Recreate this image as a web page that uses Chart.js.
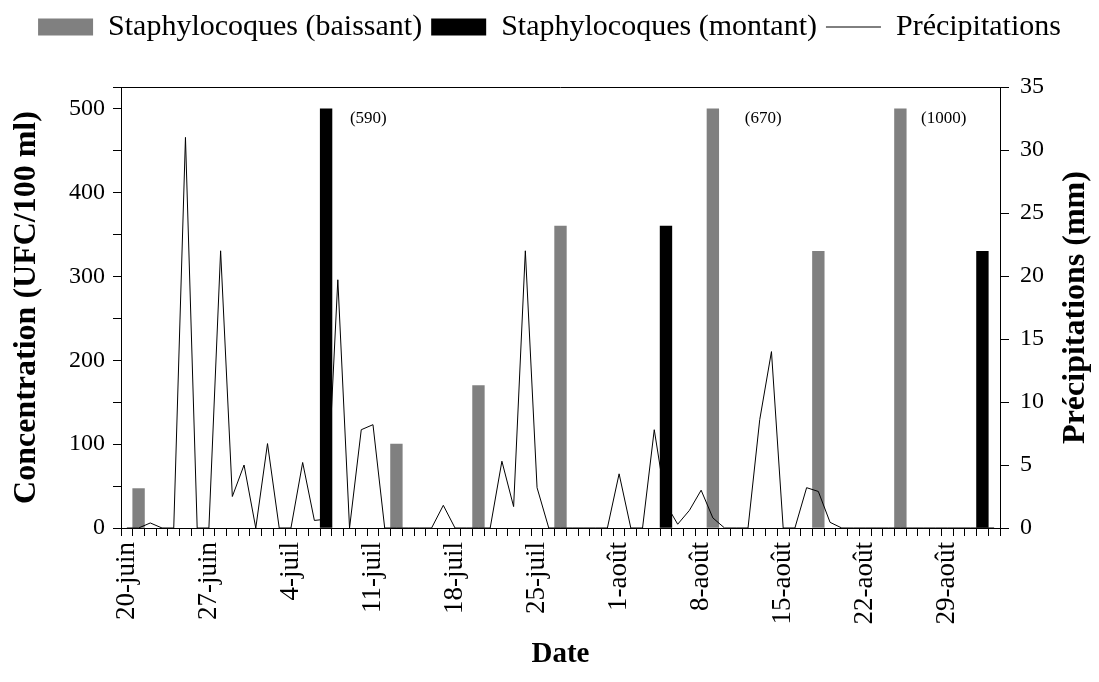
<!DOCTYPE html>
<html lang="fr">
<head>
<meta charset="utf-8">
<script src="https://cdn.jsdelivr.net/npm/chart.js@4.4.1/dist/chart.umd.min.js"></script>
<style>
  html, body { margin: 0; padding: 0; background: #fff; }
  canvas { display: block; }
</style>
</head>
<body>
<canvas id="chart" width="1099" height="682"></canvas>
<script>
// Days shown on the x axis (20-juin -> 2-sept)
const monthSpans = [['juin', 20, 30], ['juil', 1, 31], ['août', 1, 31], ['sept', 1, 2]];
const dates = [];
monthSpans.forEach(([m, first, last]) => {
    for (let d = first; d <= last; d++) dates.push(d + '-' + m);
});

// Staphylococci, falling tide (UFC/100 ml)
const baissantDays = ['21-juin', '13-juil', '20-juil', '27-juil', '9-août', '18-août', '25-août'];
const baissantValues = [47, 100, 170, 360, 670, 330, 1000];

// Staphylococci, rising tide (UFC/100 ml)
const montantDays = ['7-juil', '5-août', '1-sept'];
const montantValues = [590, 360, 330];

// Daily rainfall (mm)
const precipitations = [
    0, 0, 0.4, 0, 0, 31, 0, 0, 22, 2.5,
    5, 0, 6.7, 0, 0, 5.2, 0.6, 0.7, 19.7, 0,
    7.8, 8.2, 0, 0, 0, 0, 0, 1.8, 0, 0,
    0, 0, 5.3, 1.7, 22, 3.2, 0, 0, 0, 0,
    0, 0, 4.3, 0, 0, 7.8, 1.9, 0.3, 1.4, 3.0,
    0.8, 0, 0, 0, 8.6, 14, 0, 0, 3.2, 2.9,
    0.45, 0, 0, 0, 0, 0, 0, 0, 0, 0,
    0, 0, 0, 0, 0
];

// Axis ticks
const concTicks = [0, 100, 200, 300, 400, 500];
const rainTicks = [0, 5, 10, 15, 20, 25, 30, 35];

// Bars above this are cut and their value is written beside them
const CAP = 500;
// where the "(value)" notes sit, in days to the right of their bar
const noteShift = { '7-juil': 3.6, '9-août': 4.3, '25-août': 3.7 };

const FONT = '"Liberation Serif", "Times New Roman", serif';

function toSeries(days, values) {
    const out = dates.map(() => null);
    days.forEach((d, i) => { out[dates.indexOf(d)] = Math.min(values[i], CAP); });
    return out;
}

// frame top line, cut-bar notes and the right axis title
const extrasPlugin = {
    id: 'extras',
    afterInit(chart) {
        // leave room between the legend and the plot
        const fit = chart.legend.fit;
        chart.legend.fit = function() {
            fit.call(this);
            this.height += 35;
        };
    },
    afterDatasetsDraw(chart) {
        const { ctx, chartArea: a, scales } = chart;
        ctx.save();
        ctx.strokeStyle = '#000';
        ctx.lineWidth = 1;
        ctx.beginPath();
        ctx.moveTo(a.left, a.top + 0.5);
        ctx.lineTo(a.right, a.top + 0.5);
        ctx.stroke();

        ctx.fillStyle = '#000';
        ctx.font = '17px ' + FONT;
        ctx.textAlign = 'center';
        ctx.textBaseline = 'middle';
        const notes = [[baissantDays, baissantValues], [montantDays, montantValues]];
        notes.forEach(([days, values]) => {
            days.forEach((d, i) => {
                if (values[i] <= CAP) return;
                const x = scales.x.getPixelForValue(dates.indexOf(d) + (noteShift[d] || 3.8));
                const y = scales.y.getPixelForValue(CAP) + 10;
                ctx.fillText('(' + values[i] + ')', x, y);
            });
        });

        ctx.translate(scales.y1.right - 23, (a.top + a.bottom) / 2);
        ctx.rotate(-Math.PI / 2);
        ctx.font = 'bold 32px ' + FONT;
        ctx.fillText('Précipitations (mm)', 0, 0);
        ctx.restore();
    }
};

Chart.defaults.font.family = FONT;
Chart.defaults.color = '#000';

new Chart(document.getElementById('chart'), {
    type: 'bar',
    data: {
        labels: dates,
        datasets: [
            {
                label: 'Staphylocoques (baissant)',
                data: toSeries(baissantDays, baissantValues),
                backgroundColor: '#808080',
                borderWidth: 0,
                grouped: false,
                barPercentage: 1,
                categoryPercentage: 1,
                pointStyle: 'rect',
                yAxisID: 'y',
                order: 1
            },
            {
                label: 'Staphylocoques (montant)',
                data: toSeries(montantDays, montantValues),
                backgroundColor: '#000',
                borderWidth: 0,
                grouped: false,
                barPercentage: 1,
                categoryPercentage: 1,
                pointStyle: 'rect',
                yAxisID: 'y',
                order: 1
            },
            {
                type: 'line',
                label: 'Précipitations',
                data: precipitations,
                borderColor: '#000',
                backgroundColor: '#000',
                borderWidth: 1,
                pointRadius: 0,
                pointStyle: 'line',
                tension: 0,
                yAxisID: 'y1',
                order: 0
            }
        ]
    },
    options: {
        responsive: false,
        animation: false,
        devicePixelRatio: 1,
        layout: { padding: { top: 3 } },
        plugins: {
            tooltip: { enabled: false },
            legend: {
                position: 'top',
                labels: {
                    font: { size: 30 },
                    usePointStyle: true,
                    pointStyleWidth: 55,
                    boxHeight: 17,
                    padding: 9,
                    sort: (a, b) => a.datasetIndex - b.datasetIndex
                }
            }
        },
        scales: {
            x: {
                offset: true,
                grid: {
                    offset: true,
                    drawOnChartArea: false,
                    drawTicks: true,
                    tickLength: 8,
                    color: '#000'
                },
                border: { color: '#000', width: 1 },
                ticks: {
                    autoSkip: false,
                    minRotation: 90,
                    maxRotation: 90,
                    padding: 6,
                    font: { size: 27 },
                    callback: (v, i) => (i % 7 === 0 ? dates[i] : '')
                },
                title: {
                    display: true,
                    text: 'Date',
                    font: { size: 29, weight: 'bold' },
                    padding: { top: 0, bottom: 10 }
                },
                afterFit: s => { s.height = 154; }
            },
            y: {
                position: 'left',
                min: 0,
                max: 526,
                bounds: 'data',
                grid: {
                    drawOnChartArea: false,
                    tickLength: 8,
                    color: '#000'
                },
                border: { color: '#000', width: 1 },
                ticks: {
                    stepSize: 50,
                    includeBounds: false,
                    padding: 8,
                    font: { size: 24 },
                    callback: v => (concTicks.includes(v) ? v : '')
                },
                title: {
                    display: true,
                    text: 'Concentration (UFC/100 ml)',
                    font: { size: 32, weight: 'bold' },
                    padding: { top: 8, bottom: 0 }
                },
                afterFit: s => { s.width = 121; }
            },
            y1: {
                position: 'right',
                min: 0,
                max: 35,
                grid: {
                    drawOnChartArea: false,
                    tickLength: 9,
                    color: '#000'
                },
                border: { color: '#000', width: 1 },
                ticks: {
                    stepSize: 5,
                    padding: 11,
                    font: { size: 24 },
                    callback: v => (rainTicks.includes(v) ? v : '')
                },
                afterFit: s => { s.width = 99; }
            }
        }
    },
    plugins: [extrasPlugin]
});
</script>
</body>
</html>
